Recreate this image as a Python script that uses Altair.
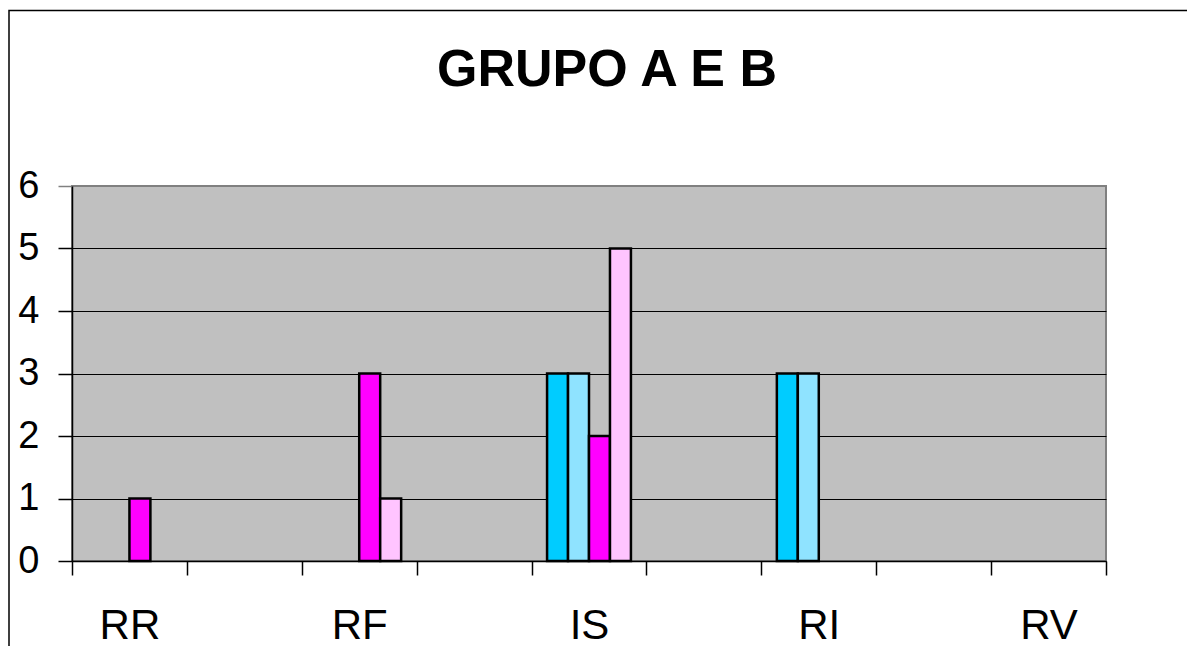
import altair as alt
import pandas as pd

title_text = "GRUPO A E B"
categories = ["RR", " ", "RF", "  ", "IS", "   ", "RI", "    ", "RV"]
series = ["Série 1", "Série 2", "Série 3", "Série 4"]
colors = ["#00CCFF", "#8FE3FF", "#FF00FF", "#FFC4FF"]
s1 = [0, 0, 0, 0, 3, 0, 3, 0, 0]
s2 = [0, 0, 0, 0, 3, 0, 3, 0, 0]
s3 = [1, 0, 3, 0, 2, 0, 0, 0, 0]
s4 = [0, 0, 1, 0, 5, 0, 0, 0, 0]
y_ticks = [0, 1, 2, 3, 4, 5, 6]

rows = []
for name, vals in zip(series, [s1, s2, s3, s4]):
    for c, v in zip(categories, vals):
        rows.append({"cat": c, "serie": name, "valor": v})
df = pd.DataFrame(rows)

bars = alt.Chart(df).transform_filter("datum.valor > 0").mark_bar(
    stroke="black", strokeWidth=2.5
).encode(
    x=alt.X(
        "cat:N",
        sort=categories,
        scale=alt.Scale(domain=categories, paddingInner=0, paddingOuter=0),
        axis=alt.Axis(
            title=None, labelAngle=0, labelFont="Liberation Sans", labelFontSize=42,
            labelColor="black", tickBand="extent", tickColor="black", tickSize=14,
            tickWidth=1.5, domainColor="black", domainWidth=1.5, labelPadding=30,
            grid=False, labelOverlap=False,
        ),
    ),
    xOffset=alt.XOffset(
        "serie:N", sort=series,
        scale=alt.Scale(domain=series, paddingInner=0, paddingOuter=0.74),
    ),
    y=alt.Y(
        "valor:Q",
        scale=alt.Scale(domain=[0, 6], nice=False),
        axis=alt.Axis(
            title=None, values=y_ticks, labelFont="Liberation Sans", labelFontSize=38,
            labelColor="black", tickSize=14, tickWidth=1.5,
            tickColor=alt.condition("datum.value == 6", alt.value("#808080"), alt.value("black")),
            domainColor="black", domainWidth=1.5, labelPadding=19, grid=True,
            gridColor=alt.condition("datum.value == 6", alt.value("#808080"), alt.value("black")),
            gridWidth=1,
        ),
    ),
    color=alt.Color("serie:N", scale=alt.Scale(domain=series, range=colors), legend=None),
)

frame = alt.Chart(pd.DataFrame({"k": [0]})).mark_rect(
    fillOpacity=0, stroke="black", strokeWidth=1.5
).encode(
    x=alt.value(-63), x2=alt.value(1300), y=alt.value(-175.5), y2=alt.value(700)
)

title = alt.Chart(pd.DataFrame({"t": [title_text]})).mark_text(
    font="Liberation Sans", fontSize=52, fontWeight="bold", color="black",
    align="center", baseline="alphabetic",
).encode(
    text="t:N", x=alt.value(535), y=alt.value(-100)
)

chart = alt.layer(frame, bars, title).properties(
    width=1034,
    height=375,
    autosize=alt.AutoSizeParams(type="none"),
    padding={"left": 64, "top": 178, "right": 81, "bottom": 85},
    background="white",
).configure_view(
    fill="#C0C0C0", stroke="#808080", strokeWidth=2
)

chart.save("out.html", embed_options={"renderer": "svg", "actions": False})
